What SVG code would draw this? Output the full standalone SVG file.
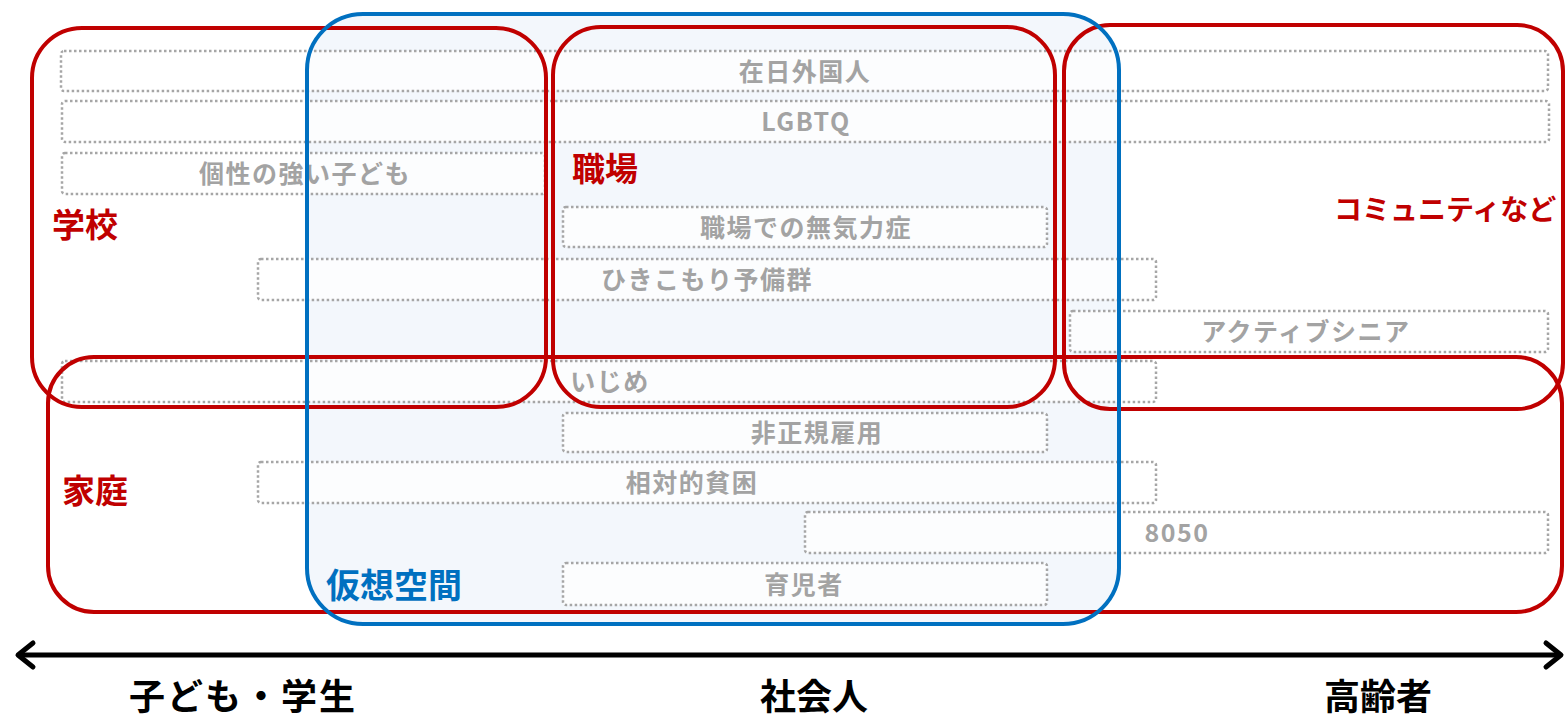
<svg xmlns="http://www.w3.org/2000/svg" width="1565" height="718" viewBox="0 0 1565 718">
<style>
.bg{fill:#ffffff}
.vfill{fill:#f3f7fc;stroke:none}
.dot{fill:#ffffff;fill-opacity:0.75;stroke:#a6a6a6;stroke-width:2.5;stroke-dasharray:2.5 2.5}
.gt{font-family:"Noto Sans CJK JP","Noto Sans",sans-serif;font-size:25px;font-weight:700;fill:#a3a3a3;text-anchor:middle;dominant-baseline:central;letter-spacing:1.5px}
.red{fill:none;stroke:#c00000;stroke-width:4}
.blue{fill:none;stroke:#0070c0;stroke-width:4}
.rl{font-family:"Noto Sans CJK JP",sans-serif;font-size:33px;font-weight:700;fill:#c00000;dominant-baseline:central}
.bl{font-family:"Noto Sans CJK JP",sans-serif;font-size:34px;font-weight:700;fill:#0070c0;dominant-baseline:central}
.ax{font-family:"Noto Sans CJK JP",sans-serif;font-size:36px;font-weight:700;fill:#000;text-anchor:middle;dominant-baseline:central}
.axis{fill:none;stroke:#000;stroke-width:5}
</style>
<defs>
<marker id="chev" viewBox="-20 -16 24 32" refX="0" refY="0" markerWidth="24" markerHeight="32" markerUnits="userSpaceOnUse" orient="auto-start-reverse">
<path d="M-15,-12 L0,0 L-15,12" fill="none" stroke="#000" stroke-width="5" stroke-linecap="round" stroke-linejoin="round"/>
</marker>
</defs>
<rect class="bg" x="0" y="0" width="1565" height="718"/>

<g id="virtual-space-fill">
<rect class="vfill" x="307" y="14" width="812" height="610" rx="56" ry="56"/>
</g>

<g id="item-zainichi">
<rect class="dot" x="61" y="51" width="1487" height="40" rx="3"/>
<text class="gt" x="805" y="70">在日外国人</text>
</g>
<g id="item-lgbtq">
<rect class="dot" x="62" y="101" width="1487" height="41" rx="3"/>
<text class="gt" x="806" y="120">LGBTQ</text>
</g>
<g id="item-kosei">
<rect class="dot" x="62" y="153" width="483" height="41" rx="3"/>
<text class="gt" x="305" y="172">個性の強い子ども</text>
</g>
<g id="item-muki">
<rect class="dot" x="563" y="207" width="484" height="40" rx="3"/>
<text class="gt" x="806" y="226">職場での無気力症</text>
</g>
<g id="item-hikikomori">
<rect class="dot" x="258" y="259" width="898" height="41" rx="3"/>
<text class="gt" x="707" y="278">ひきこもり予備群</text>
</g>
<g id="item-active-senior">
<rect class="dot" x="1070" y="311" width="478" height="41" rx="3"/>
<text class="gt" x="1306" y="330">アクティブシニア</text>
</g>
<g id="item-ijime">
<rect class="dot" x="62" y="361" width="1094" height="41" rx="3"/>
<text class="gt" x="610" y="380">いじめ</text>
</g>
<g id="item-hiseiki">
<rect class="dot" x="563" y="413" width="484" height="39" rx="3"/>
<text class="gt" x="817" y="431">非正規雇用</text>
</g>
<g id="item-hinkon">
<rect class="dot" x="258" y="462" width="898" height="41" rx="3"/>
<text class="gt" x="692" y="481">相対的貧困</text>
</g>
<g id="item-8050">
<rect class="dot" x="805" y="512" width="743" height="41" rx="3"/>
<text class="gt" x="1177" y="531">8050</text>
</g>
<g id="item-ikuji">
<rect class="dot" x="563" y="563" width="484" height="42" rx="3"/>
<text class="gt" x="804" y="583">育児者</text>
</g>

<g id="region-school">
<rect class="red" x="32" y="28" width="514" height="379" rx="50" ry="50"/>
<text class="rl" x="52" y="223">学校</text>
</g>
<g id="region-workplace">
<rect class="red" x="553" y="27" width="502" height="380" rx="48" ry="48"/>
<text class="rl" x="572" y="167">職場</text>
</g>
<g id="region-community">
<rect class="red" x="1064" y="25" width="499" height="384" rx="46" ry="46"/>
<text class="rl" x="1334" y="208" style="font-size:28px">コミュニティなど</text>
</g>
<g id="region-family">
<rect class="red" x="48" y="357" width="1514" height="255" rx="46" ry="46"/>
<text class="rl" x="62" y="489">家庭</text>
</g>
<g id="virtual-space">
<rect class="blue" x="307" y="14" width="812" height="610" rx="56" ry="56"/>
<text class="bl" x="326" y="583">仮想空間</text>
</g>

<g id="connectors">
<line class="axis" x1="18" y1="655" x2="1561" y2="655" marker-start="url(#chev)" marker-end="url(#chev)"/>
</g>
<g id="axis-labels">
<text class="ax" x="243" y="694" style="letter-spacing:2px">子ども・学生</text>
<text class="ax" x="814" y="694">社会人</text>
<text class="ax" x="1378" y="694">高齢者</text>
</g>
</svg>
